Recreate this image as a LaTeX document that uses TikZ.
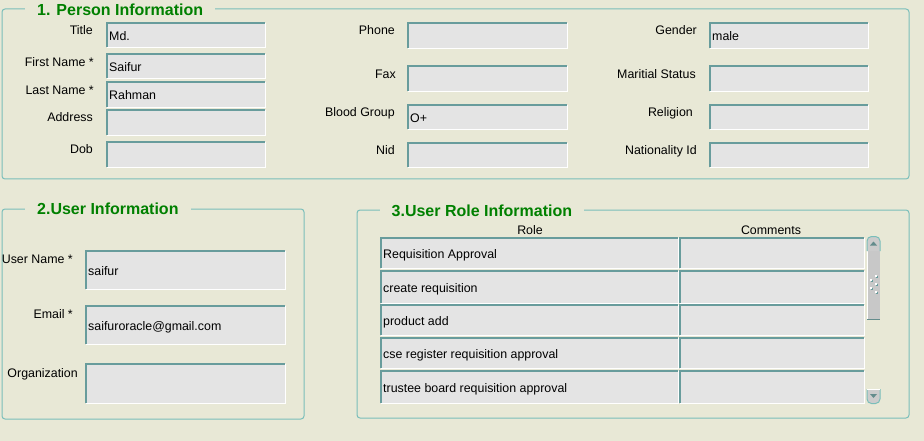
\documentclass[tikz,border=0pt]{standalone}
\usepackage{fontspec}
\setmainfont{Liberation Sans}
\definecolor{bgc}{RGB}{232,232,214}
\definecolor{fillc}{RGB}{228,228,228}
\definecolor{edgec}{RGB}{104,156,156}
\definecolor{framec}{RGB}{122,190,186}
\definecolor{titlec}{RGB}{0,128,0}
\definecolor{lowc}{RGB}{204,204,204}
\definecolor{thumbc}{RGB}{200,200,200}
\definecolor{arrowc}{RGB}{100,140,140}
\tikzset{
 fld/.style={fill=fillc, draw=none, inner sep=0pt, anchor=north west},
 hiedge/.style={draw=edgec, line width=1.6pt},
 loedge/.style={draw=white, line width=1.4pt},
 lbl/.style={font=\fontsize{12.4}{14}\selectfont, text height=8.9pt, text depth=0pt, inner sep=0pt, anchor=east},
 ftxt/.style={font=\fontsize{12.4}{14}\selectfont, text height=8.9pt, text depth=0pt, inner sep=0pt, anchor=west},
 hdr/.style={font=\fontsize{12.4}{14}\selectfont, text height=8.9pt, text depth=0pt, inner sep=0pt},
 ttl/.style={font=\fontsize{16}{19}\selectfont\bfseries, text=titlec, fill=bgc, text height=11.5pt, text depth=0pt, inner xsep=12pt, inner ysep=1pt, anchor=west},
 frm/.style={draw=framec, line width=1pt, rounded corners=3pt},
}
\newcommand\mkbox[5]{%
 \node[fld, minimum width={#4-#2}, minimum height={#5-#3}] (#1) at (#2,#3) {};
 \draw[loedge] (#1.south west) -| (#1.north east);
 \draw[hiedge] (#1.south west) |- (#1.north east);
}
\newcommand\mktext[2]{\node[ftxt] (#1t) at ([xshift=2pt,yshift=-0.5pt]#1.west) {#2};}
\begin{document}
\begin{tikzpicture}[x=1pt,y=-1pt]
\fill[bgc] (0,0) rectangle (924,441);
\useasboundingbox (0,0) rectangle (924,441);
% ---------- frames
\draw[frm] (2,9) rectangle (909,179);
\node[ttl] (t1) at (25,9.5) {1. Person Information};
\draw[frm] (2,209) rectangle (304,419);
\node[ttl] (t2) at (25,209.2) {2.User Information};
\draw[frm] (357,210) rectangle (909,418);
\node[ttl] (t3) at (379.5,210.8) {3.User Role Information};
% ---------- section 1, column 1
\mkbox{title}{107}{23}{265}{47}\mktext{title}{Md.}
\mkbox{first}{107}{54}{265}{78}\mktext{first}{Saifur}
\mkbox{last}{107}{82}{265}{107}\mktext{last}{Rahman}
\mkbox{addr}{107}{110}{265}{135}
\mkbox{dob}{107}{142}{265}{167}
\node[lbl] (ltitle) at (93,30.5) {Title};
\node[lbl] (lfirst) at (94,61.7) {First Name *};
\node[lbl] (llast) at (94,90) {Last Name *};
\node[lbl] (laddr) at (93,117.5) {Address};
\node[lbl] (ldob) at (93,149.5) {Dob};
% ---------- section 1, column 2
\mkbox{phone}{408}{23}{567}{48}
\mkbox{fax}{408}{66}{567}{91}
\mkbox{blood}{408}{105}{567}{129}\mktext{blood}{O+}
\mkbox{nid}{408}{143}{567}{167}
\node[lbl] (lphone) at (395,30.5) {Phone};
\node[lbl] (lfax) at (396,74) {Fax};
\node[lbl] (lblood) at (395,112.3) {Blood Group};
\node[lbl] (lnid) at (395,150.5) {Nid};
% ---------- section 1, column 3
\mkbox{gender}{710}{23}{868}{48}\mktext{gender}{male}
\mkbox{marit}{710}{66}{868}{91}
\mkbox{relig}{710}{105}{868}{129}
\mkbox{natid}{710}{143}{868}{167}
\node[lbl] (lgender) at (697,30.5) {Gender};
\node[lbl] (lmarit) at (696,74.5) {Maritial Status};
\node[lbl] (lrelig) at (693,112) {Religion};
\node[lbl] (lnatid) at (697,150.3) {Nationality Id};
% ---------- section 2
\mkbox{uname}{86}{251}{285}{289}\mktext{uname}{saifur}
\mkbox{email}{86}{306}{285}{344}\mktext{email}{saifuroracle@gmail.com}
\mkbox{org}{86}{364}{285}{403}
\node[lbl] (luname) at (73,258.7) {User Name *};
\node[lbl] (lemail) at (73,313.7) {Email *};
\node[lbl] (lorg) at (78,372.8) {Organization};
% ---------- section 3
\node[hdr] (hrole) at (530,229.8) {Role};
\node[hdr] (hcomm) at (771,229.8) {Comments};
\mkbox{r1}{381}{238}{678}{268}\mktext{r1}{Requisition Approval}
\mkbox{r2}{381}{271}{678}{303}\mktext{r2}{create requisition}
\mkbox{r3}{381}{305}{678}{335}\mktext{r3}{product add}
\mkbox{r4}{381}{338}{678}{368}\mktext{r4}{cse register requisition approval}
\mkbox{r5}{381}{371}{678}{403}\mktext{r5}{trustee board requisition approval}
\mkbox{c1}{680}{238}{864}{268}
\mkbox{c2}{680}{271}{864}{303}
\mkbox{c3}{680}{305}{864}{335}
\mkbox{c4}{680}{338}{864}{368}
\mkbox{c5}{680}{371}{864}{403}
% ---------- scrollbar
\fill[thumbc] (867,251) rectangle (880,320);
\draw[white, line width=1pt] (867.5,251) -- (867.5,319);
\draw[arrowc, line width=1pt] (867,319.5) -- (880,319.5);
\foreach \dx/\dy in {876/276,871/280,876/284,871/288,876/292}{
  \fill[edgec] (\dx-0.5,\dy-0.5) rectangle (\dx+1.5,\dy+1.5);
  \fill[white] (\dx-1,\dy-1) rectangle (\dx+1,\dy+1);
}
\draw[draw=framec, fill=lowc, line width=1pt, rounded corners=4.5pt] (867,251) -- (867,236.5) -- (880,236.5) -- (880,251);
\fill[arrowc] (870,245.5) -- (877,245.5) -- (873.5,241.5) -- cycle;
\draw[draw=framec, fill=lowc, line width=1pt, rounded corners=4.5pt] (867,389) -- (867,403.5) -- (880,403.5) -- (880,389);
\draw[white, line width=1pt] (866.5,389) -- (880,389);
\fill[arrowc] (870,394) -- (877,394) -- (873.5,398) -- cycle;
\end{tikzpicture}
\end{document}
